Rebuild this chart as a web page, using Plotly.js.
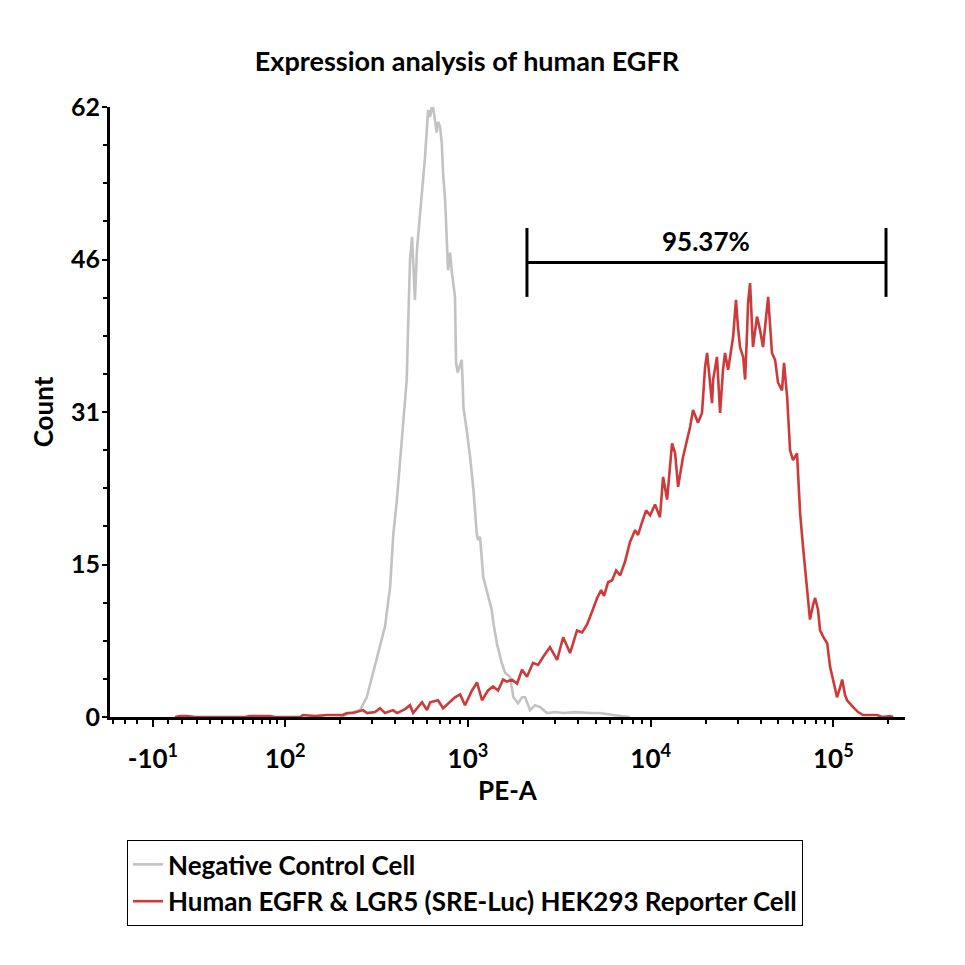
<!DOCTYPE html>
<html>
<head>
<meta charset="utf-8">
<script src="https://cdn.plot.ly/plotly-3.0.1.min.js"></script>
<style>
  html, body { margin: 0; padding: 0; background: #ffffff; }
  #chart { width: 965px; height: 965px; }
</style>
</head>
<body>
<div id="chart"></div>
<script>
// PE-A histogram on a biexponential display scale (decade units: 2 = 10^2 ... 5 = 10^5)

// Negative control cells
const negX = [2.300,2.355,2.409,2.446,2.481,2.519,2.546,2.574,2.592,2.610,2.628,2.646,2.665,2.672,2.683,2.694,2.705,2.710,2.721,2.738,2.749,2.765,2.776,2.782,2.793,2.801,2.809,2.820,2.829,2.836,2.847,2.857,2.864,2.875,2.884,2.891,2.902,2.911,2.929,2.935,2.944,2.951,2.966,2.972,2.975,2.993,3.012,3.030,3.048,3.055,3.066,3.084,3.112,3.130,3.139,3.158,3.185,3.203,3.230,3.249,3.274,3.296,3.313,3.340,3.367,3.395,3.433,3.477,3.521,3.586,3.668,3.723,3.794,3.887];
const negCount = [0,0.4,0.7,2.0,4.5,7.1,9.2,13.2,18.7,21.8,25.8,29.2,34.3,39.3,46.5,48.8,43.4,42.4,47.5,51.0,53.6,56.9,60.0,61.7,61.0,61.9,62.0,60.7,59.4,60.5,60.0,58.3,55.3,52.6,47.8,45.4,47.2,45.4,42.7,36.0,35.0,35.5,36.3,33.5,31.5,29.2,26.4,23.1,18.7,18.0,18.3,14.2,12.2,10.9,9.6,7.5,5.5,4.5,4.1,2.0,1.4,2.0,2.0,0.7,1.2,1.0,0.4,0.5,0.4,0.5,0.4,0.4,0.2,0];

// Human EGFR & LGR5 (SRE-Luc) HEK293 reporter cells
const posX = [1.397,1.424,1.462,1.506,1.780,1.807,1.851,1.917,1.944,2.081,2.097,2.163,2.229,2.316,2.338,2.371,2.426,2.448,2.492,2.519,2.546,2.590,2.612,2.656,2.683,2.700,2.749,2.776,2.793,2.836,2.864,2.886,2.929,2.957,2.984,3.022,3.050,3.077,3.110,3.137,3.165,3.192,3.214,3.241,3.269,3.296,3.323,3.356,3.384,3.411,3.449,3.488,3.521,3.559,3.597,3.625,3.652,3.679,3.707,3.729,3.745,3.767,3.789,3.811,3.833,3.860,3.887,3.915,3.931,3.953,3.975,3.997,4.024,4.051,4.068,4.090,4.117,4.134,4.150,4.177,4.199,4.216,4.232,4.259,4.281,4.298,4.309,4.325,4.336,4.342,4.363,4.380,4.396,4.407,4.424,4.451,4.467,4.478,4.489,4.506,4.517,4.528,4.533,4.544,4.555,4.560,4.582,4.599,4.615,4.637,4.643,4.664,4.681,4.697,4.719,4.730,4.747,4.763,4.779,4.801,4.818,4.834,4.856,4.872,4.889,4.900,4.916,4.927,4.949,4.966,4.982,5.004,5.020,5.037,5.048,5.064,5.075,5.108,5.135,5.163,5.201,5.239,5.267,5.310,5.327];
const posCount = [0,0.1,0.1,0,0,0.1,0.1,0.1,0,0,0.2,0.1,0.2,0.2,0.4,0.4,0.7,0.4,0.5,0.9,0.4,0.7,0.4,0.8,1.2,0.4,1.5,0.7,1.5,1.7,0.9,1.3,2.0,2.3,1.2,2.7,3.5,1.7,2.7,3.1,2.7,3.8,3.6,3.8,3.4,4.8,4.1,5.5,5.3,6.1,7.1,5.8,8.1,6.5,8.8,8.6,9.4,10.7,12.1,12.9,12.3,13.7,13.9,14.9,14.4,15.8,17.8,19.0,18.5,19.8,21.0,20.5,21.6,20.3,24.4,22.1,27.8,26.8,23.4,26.4,28.2,29.5,31.2,29.9,30.9,35.6,37.0,34.3,31.9,34.3,36.6,30.9,35.3,37.0,35.3,38.6,42.4,39.6,37.6,36.6,34.3,39.3,42.1,44.1,40.4,37.6,40.7,39.3,37.6,41.7,42.7,37.0,36.3,34.0,33.2,36.0,32.5,27.1,26.1,26.8,20.7,17.3,13.2,9.9,11.4,12.1,10.9,8.8,8.0,7.5,5.1,3.3,2.0,3.0,3.8,2.2,1.7,1.0,0.5,0.2,0.2,0.2,0,0.1,0];

// Positive gate
const gateBounds = [3.323, 5.288];
const gateLevel = 46.2;
const gateLabel = "95.37%";

// Axis ticks
const xTickVals = [1.276, 2, 3, 4, 5];
const xTickText = ["-10<sup>1</sup>", "10<sup>2</sup>", "10<sup>3</sup>", "10<sup>4</sup>", "10<sup>5</sup>"];
const xLinearMinor = [1.057,1.123,1.189,1.359,1.436,1.518,1.589,1.654,1.714,1.769,1.824,1.873,1.917,1.955];
const yTickVals = [0, 15.5, 31, 46.5, 62];
const yTickText = ["0", "15", "31", "46", "62"];

const seriesNames = ["Negative Control Cell", "Human EGFR &amp; LGR5 (SRE-Luc) HEK293 Reporter Cell"];

// log-spaced minor ticks inside each decade
const xMinor = xLinearMinor.slice();
for (let d = 2; d <= 5; d++) {
  for (let k = 2; k <= 9; k++) {
    const v = d + Math.log10(k);
    if (v < 5.39) xMinor.push(+v.toFixed(4));
  }
}

const FONT = "Lato, 'Open Sans', sans-serif";
const capHalf = 3.5;

const traces = [
  {
    x: negX, y: negCount, type: "scatter", mode: "lines",
    name: seriesNames[0],
    line: { color: "#c2c2c2", width: 2.6 }
  },
  {
    x: posX, y: posCount, type: "scatter", mode: "lines",
    name: seriesNames[1],
    line: { color: "#cc3a3a", width: 2.6 }
  },
  {
    x: [gateBounds[0], gateBounds[0], null, gateBounds[0], gateBounds[1], null, gateBounds[1], gateBounds[1]],
    y: [gateLevel - capHalf, gateLevel + capHalf, null, gateLevel, gateLevel, null, gateLevel - capHalf, gateLevel + capHalf],
    type: "scatter", mode: "lines", showlegend: false, hoverinfo: "skip",
    line: { color: "#000000", width: 3 }
  }
];

const layout = {
  width: 965, height: 965,
  paper_bgcolor: "#ffffff", plot_bgcolor: "#ffffff",
  margin: { l: 110, r: 60, t: 107, b: 248 },
  font: { family: FONT, color: "#000000" },
  title: {
    text: "Expression analysis of human EGFR",
    x: 0.449, xref: "paper", xanchor: "center",
    y: 1 - 62 / 965, yref: "container", yanchor: "middle",
    font: { family: FONT, size: 27, weight: 700, color: "#000000" }
  },
  xaxis: {
    range: [1.041, 5.392],
    tickmode: "array", tickvals: xTickVals, ticktext: xTickText,
    ticks: "outside", ticklen: 7, tickwidth: 2, tickcolor: "#000000",
    showline: true, linewidth: 3, linecolor: "#000000",
    showgrid: false, zeroline: false,
    ticklabelstandoff: 10,
    tickfont: { family: FONT, size: 26, weight: 700, color: "#000000" },
    minor: { tickmode: "array", tickvals: xMinor, ticks: "outside", ticklen: 4, tickwidth: 2, tickcolor: "#000000", showgrid: false },
    title: { text: "PE-A", standoff: 6, font: { family: FONT, size: 26, weight: 700, color: "#000000" } }
  },
  yaxis: {
    range: [0, 62],
    tickmode: "array", tickvals: yTickVals, ticktext: yTickText,
    ticks: "outside", ticklen: 5, tickwidth: 2, tickcolor: "#000000",
    showline: true, linewidth: 3, linecolor: "#000000",
    showgrid: false, zeroline: false,
    ticklabelstandoff: -3,
    tickfont: { family: FONT, size: 25, weight: 700, color: "#000000" },
    minor: { dtick: 3.875, tick0: 0, ticks: "outside", ticklen: 4, tickwidth: 2, tickcolor: "#000000", showgrid: false },
    title: { text: "Count", standoff: 10, font: { family: FONT, size: 26, weight: 700, color: "#000000" } }
  },
  showlegend: true,
  legend: {
    x: 0.0214, y: -0.2016, xanchor: "left", yanchor: "top",
    bordercolor: "#000000", borderwidth: 1, bgcolor: "#ffffff",
    itemwidth: 30,
    font: { family: FONT, size: 26, weight: 700, color: "#000000" }
  },
  annotations: [
    {
      x: (gateBounds[0] + gateBounds[1]) / 2, y: gateLevel,
      xref: "x", yref: "y", text: gateLabel, showarrow: false,
      yanchor: "bottom", yshift: 3,
      font: { family: FONT, size: 26, weight: 700, color: "#000000" }
    }
  ]
};

Plotly.newPlot("chart", traces, layout, { displayModeBar: false, staticPlot: true });
</script>
</body>
</html>
